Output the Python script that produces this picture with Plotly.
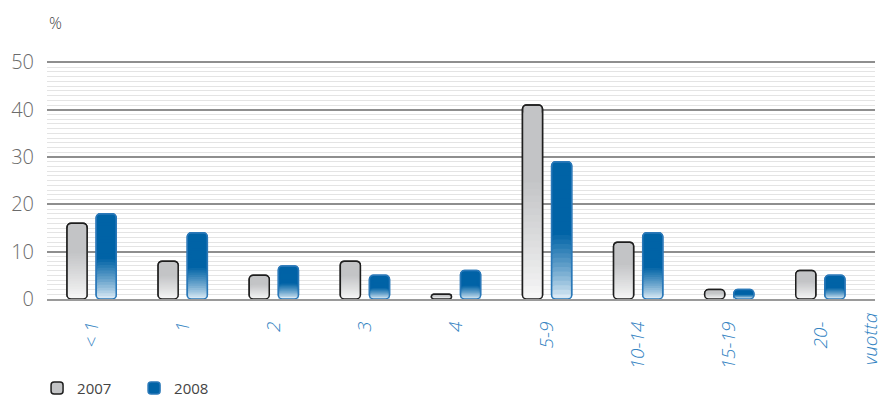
import plotly.graph_objects as go

categories = ["< 1", "1", "2", "3", "4", "5-9", "10-14", "15-19", "20-"]
vals_2007 = [16, 8, 5, 8, 1, 41, 12, 2, 6]
vals_2008 = [18, 14, 7, 5, 6, 29, 14, 2, 5]
series_names = ["2007", "2008"]
unit_label = "vuotta"
y_label = "%"
y_ticks = [0, 10, 20, 30, 40, 50]

FONT = "Open Sans"
N = 30  # gradient layers


def lerp(c1, c2, f):
    return tuple(round(a + (b - a) * f) for a, b in zip(c1, c2))


def grad_grey(t):
    lo, hi = (248, 248, 248), (195, 196, 198)
    f = min(t / 0.62, 1.0)
    return "rgb(%d,%d,%d)" % lerp(lo, hi, f ** 0.9)


def grad_blue(t):
    lo, hi = (232, 242, 250), (0, 99, 166)
    f = min(t / 0.48, 1.0)
    return "rgb(%d,%d,%d)" % lerp(lo, hi, f ** 0.8)


series = [
    dict(name=series_names[0], vals=vals_2007, grad=grad_grey, line="#1e1e1e", offset=-0.27),
    dict(name=series_names[1], vals=vals_2008, grad=grad_blue, line="#2a78b8", offset=0.05),
]
WIDTH = 0.22
RADIUS = 4

fig = go.Figure()
for s in series:
    for k in range(N):
        t_hi = 1 - k / N
        t_mid = 1 - (k + 0.5) / N
        fig.add_trace(go.Bar(
            x=categories,
            y=[v * t_hi for v in s["vals"]],
            base=0,
            width=WIDTH,
            offset=s["offset"],
            name=s["name"],
            showlegend=(k == 0),
            legendgroup=s["name"],
            hoverinfo="skip",
            marker=dict(
                color=s["grad"](1.0 if k == 0 else t_mid),
                line=dict(color=s["line"] if k == 0 else "rgba(0,0,0,0)", width=1.5 if k == 0 else 0),
                cornerradius=RADIUS,
            ),
        ))
    fig.add_trace(go.Bar(
        x=categories,
        y=s["vals"],
        base=0,
        width=WIDTH,
        offset=s["offset"],
        showlegend=False,
        legendgroup=s["name"],
        hoverinfo="skip",
        marker=dict(color="rgba(0,0,0,0)", line=dict(color=s["line"], width=1.5), cornerradius=RADIUS),
    ))

fig.update_layout(
    width=885, height=401,
    margin=dict(l=47, r=10, t=61, b=102, autoexpand=False),
    barmode="overlay",
    plot_bgcolor="white", paper_bgcolor="white",
    font=dict(family=FONT, color="#444"),
    legend=dict(
        orientation="h", x=-0.012, xanchor="left", y=-0.375, yanchor="middle",
        font=dict(size=15, color="#444"), entrywidth=52, traceorder="normal",
        tracegroupgap=0, borderwidth=0,
    ),
    xaxis=dict(
        type="category",
        range=[-0.49, 8.6],
        automargin=False,
        tickangle=-90,
        tickfont=dict(size=19, color="#3383c2", style="italic", weight=300),
        showgrid=False,
        showline=True, linecolor="#9a9a9a", linewidth=2,
        ticks="", ticklabelstandoff=13,
    ),
    yaxis=dict(
        range=[0, 50.3],
        automargin=False,
        tickvals=y_ticks,
        tickfont=dict(size=20, color="#6b6b6b", weight=300),
        showgrid=True, gridcolor="#8e8e8e", gridwidth=1.5,
        minor=dict(dtick=1, showgrid=True, gridcolor="#e4e4e4", gridwidth=1),
        zeroline=False, ticks="", ticklabelstandoff=12,
        showline=False,
    ),
    annotations=[
        dict(text=y_label, xref="paper", yref="paper", x=0, y=1, xanchor="left",
             yanchor="bottom", yshift=25, showarrow=False, font=dict(size=16, color="#444", weight=300)),
        dict(text=unit_label, xref="paper", yref="paper", x=0.994, y=0, xanchor="center",
             yanchor="top", yshift=-12, textangle=-90, showarrow=False,
             font=dict(size=19, color="#3383c2", style="italic", weight=300)),
    ],
)

fig.write_html("out.html")
